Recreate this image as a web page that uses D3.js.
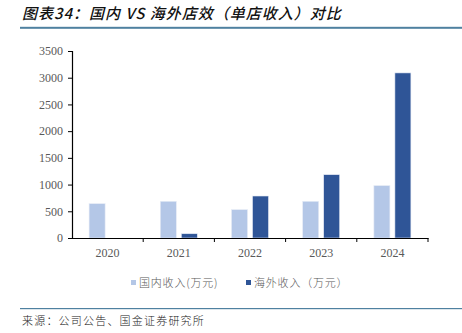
<!DOCTYPE html>
<html>
<head>
<meta charset="utf-8">
<script src="https://cdn.jsdelivr.net/npm/d3@7/dist/d3.min.js"></script>
<style>
  html, body { margin: 0; padding: 0; background: #fff; }
  svg { display: block; }
</style>
</head>
<body>
<svg id="chart" width="462" height="333"></svg>
<script>
// Store efficiency: revenue per store, domestic vs overseas (10k CNY)
const years = ["2020", "2021", "2022", "2023", "2024"];
const domestic = [642, 687, 530, 687, 980];
const overseas = [0, 80, 786, 1185, 3090];
const yTicks = [0, 500, 1000, 1500, 2000, 2500, 3000, 3500];
const seriesNames = ["国内收入(万元)", "海外收入（万元）"];
const seriesColors = ["#b4c7e7", "#2f5597"];

const svg = d3.select("#chart");
const cjk = "'Noto Sans CJK SC', 'Noto Sans', sans-serif";
const serif = "'Liberation Serif', 'DejaVu Serif', serif";

// Title and rules
svg.append("text")
  .attr("x", 22).attr("y", 19)
  .attr("font-family", cjk).attr("font-size", 15).attr("font-weight", 500)
  .attr("font-style", "italic").attr("letter-spacing", 1).attr("fill", "#111")
  .text("图表34：国内 VS 海外店效（单店收入）对比");
svg.append("rect").attr("x", 20).attr("y", 26.8).attr("width", 442).attr("height", 2)
  .attr("fill", "#4f81a0");
svg.append("rect").attr("x", 20).attr("y", 308).attr("width", 442).attr("height", 1.2)
  .attr("fill", "#4f81a0");
svg.append("text")
  .attr("x", 22).attr("y", 325)
  .attr("font-family", cjk).attr("font-size", 11).attr("font-weight", 300)
  .attr("letter-spacing", 1.2).attr("fill", "#222")
  .text("来源：公司公告、国金证券研究所");

// Scales
const x = d3.scaleBand().domain(years).range([72, 428]);
const y = d3.scaleLinear().domain([0, 3500]).range([238, 51]);

const barW = 16, gap = 5;

const g = svg.append("g");
years.forEach((yr, i) => {
  const cx = x(yr) + x.bandwidth() / 2;
  const vals = [domestic[i], overseas[i]];
  vals.forEach((v, s) => {
    if (v <= 0) return;
    const x0 = s === 0 ? cx - gap / 2 - barW : cx + gap / 2;
    g.append("rect")
      .attr("x", x0).attr("y", y(v))
      .attr("width", barW).attr("height", y(0) - y(v))
      .attr("fill", seriesColors[s])
      .attr("stroke", "#e6ecf6").attr("stroke-width", 0.6);
  });
});

// Y axis
const yAxis = svg.append("g").attr("transform", "translate(72,0)")
  .call(d3.axisLeft(y).tickValues(yTicks).tickFormat(d3.format("d"))
    .tickSize(4).tickSizeOuter(4).tickPadding(5));
yAxis.select(".domain").attr("stroke", "#000").attr("stroke-width", 1.2);
yAxis.selectAll(".tick line").attr("stroke", "#000");
yAxis.selectAll("text").attr("font-family", serif).attr("font-size", 12).attr("fill", "#595959");

// X axis with ticks at category boundaries
const xAxis = svg.append("g").attr("transform", "translate(0,238)")
  .call(d3.axisBottom(x).tickSize(0).tickPadding(10));
xAxis.select(".domain").attr("stroke", "#000").attr("stroke-width", 1.2);
xAxis.selectAll("text").attr("font-family", serif).attr("font-size", 12).attr("fill", "#595959");
const bounds = years.map(d => x(d)).concat([x.range()[1]]);
xAxis.selectAll(".bound").data(bounds.slice(1)).enter().append("line")
  .attr("class", "bound")
  .attr("x1", d => d).attr("x2", d => d).attr("y1", 0).attr("y2", 4)
  .attr("stroke", "#000");

// Legend
const legendX = [131, 246];
seriesNames.forEach((name, s) => {
  svg.append("rect").attr("x", legendX[s]).attr("y", 280).attr("width", 5).attr("height", 5)
    .attr("fill", seriesColors[s]);
  svg.append("text").attr("x", legendX[s] + 8).attr("y", 287)
    .attr("font-family", cjk).attr("font-size", 11).attr("font-weight", 300)
    .attr("letter-spacing", 0.8).attr("fill", "#595959")
    .text(name);
});
</script>
</body>
</html>
